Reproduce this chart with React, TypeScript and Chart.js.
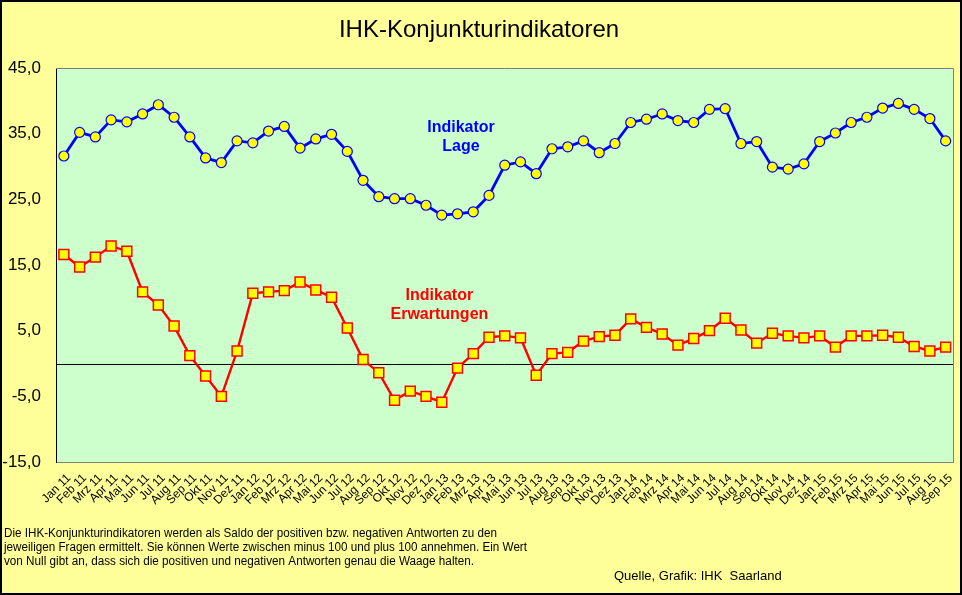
import { useEffect, useRef } from "react";
import { Chart, registerables } from "chart.js";

Chart.register(...registerables);

const labels = [
  "Jan 11", "Feb 11", "Mrz 11", "Apr 11", "Mai 11", "Jun 11", "Jul 11", "Aug 11", "Sep 11", "Okt 11", "Nov 11", "Dez 11",
  "Jan 12", "Feb 12", "Mrz 12", "Apr 12", "Mai 12", "Jun 12", "Jul 12", "Aug 12", "Sep 12", "Okt 12", "Nov 12", "Dez 12",
  "Jan 13", "Feb 13", "Mrz 13", "Apr 13", "Mai 13", "Jun 13", "Jul 13", "Aug 13", "Sep 13", "Okt 13", "Nov 13", "Dez 13",
  "Jan 14", "Feb 14", "Mrz 14", "Apr 14", "Mai 14", "Jun 14", "Jul 14", "Aug 14", "Sep 14", "Okt 14", "Nov 14", "Dez 14",
  "Jan 15", "Feb 15", "Mrz 15", "Apr 15", "Mai 15", "Jun 15", "Jul 15", "Aug 15", "Sep 15",
];

// Indikator Lage
const lage = [
  31.6, 35.2, 34.5, 37.1, 36.8, 38.0, 39.4, 37.5, 34.5, 31.3, 30.6, 33.9,
  33.6, 35.4, 36.1, 32.8, 34.2, 34.9, 32.3, 27.9, 25.4, 25.1, 25.1, 24.1,
  22.6, 22.8, 23.1, 25.6, 30.2, 30.7, 28.9, 32.7, 33.0, 33.9, 32.1, 33.5,
  36.7, 37.2, 38.0, 37.0, 36.7, 38.7, 38.8, 33.5, 33.8, 29.9, 29.6, 30.4,
  33.8, 35.1, 36.7, 37.5, 38.9, 39.6, 38.7, 37.3, 33.9,
];

// Indikator Erwartungen
const erwartungen = [
  16.6, 14.7, 16.2, 17.9, 17.1, 10.9, 8.9, 5.7, 1.2, -1.9, -5.0, 1.9,
  10.7, 10.9, 11.1, 12.4, 11.2, 10.1, 5.4, 0.6, -1.4, -5.6, -4.2, -5.0,
  -5.9, -0.7, 1.5, 4.0, 4.2, 3.9, -1.8, 1.5, 1.7, 3.4, 4.1, 4.3,
  6.8, 5.5, 4.5, 2.8, 3.8, 5.0, 6.9, 5.1, 3.1, 4.6, 4.2, 3.9,
  4.2, 2.5, 4.2, 4.2, 4.3, 4.0, 2.6, 1.9, 2.5,
];

const yTicks = [-15, -5, 5, 15, 25, 35, 45];

const title = "IHK-Konjunkturindikatoren";
const notes = [
  "Die IHK-Konjunkturindikatoren werden als Saldo der positiven bzw. negativen Antworten zu den",
  "jeweiligen Fragen ermittelt. Sie können Werte zwischen minus 100 und plus 100 annehmen. Ein Wert",
  "von Null gibt an, dass sich die positiven und negativen Antworten genau die Waage halten.",
];
const source = "Quelle, Grafik: IHK  Saarland";

const FONT = "'Liberation Sans', Arial, sans-serif";

const decor = {
  id: "decor",
  beforeDraw(chart: any) {
    const { ctx, chartArea: a, width, height } = chart;
    ctx.save();
    ctx.fillStyle = "#FFFF99";
    ctx.fillRect(0, 0, width, height);
    ctx.fillStyle = "#CCFFCC";
    ctx.fillRect(a.left, a.top, a.right - a.left, a.bottom - a.top);
    ctx.restore();
  },
  beforeDatasetsDraw(chart: any) {
    const { ctx, chartArea: a, scales } = chart;
    const y0 = Math.round(scales.y.getPixelForValue(0)) + 0.5;
    ctx.save();
    ctx.strokeStyle = "#000";
    ctx.lineWidth = 1;
    ctx.beginPath();
    ctx.moveTo(a.left, y0);
    ctx.lineTo(a.right, y0);
    ctx.stroke();
    ctx.restore();
  },
  afterDraw(chart: any) {
    const { ctx, chartArea: a, scales, width, height } = chart;
    const x = scales.x;
    const y = scales.y;
    ctx.save();
    // plot frame top/right
    ctx.strokeStyle = "#808080";
    ctx.lineWidth = 1;
    ctx.beginPath();
    ctx.moveTo(a.left, Math.round(a.top) + 0.5);
    ctx.lineTo(Math.round(a.right) - 0.5, Math.round(a.top) + 0.5);
    ctx.lineTo(Math.round(a.right) - 0.5, a.bottom);
    ctx.stroke();

    // title
    ctx.fillStyle = "#000";
    ctx.font = `24px ${FONT}`;
    ctx.textAlign = "center";
    ctx.textBaseline = "alphabetic";
    ctx.fillText(title, 479, 37);

    // series annotations
    ctx.font = `bold 16px ${FONT}`;
    ctx.textBaseline = "middle";
    ctx.fillStyle = "#0000FF";
    ctx.fillText("Indikator", x.getPixelForValue(25.22), y.getPixelForValue(35.9));
    ctx.fillText("Lage", x.getPixelForValue(25.22), y.getPixelForValue(33.0));
    ctx.fillStyle = "#FF0000";
    ctx.fillText("Indikator", x.getPixelForValue(23.85), y.getPixelForValue(10.3));
    ctx.fillText("Erwartungen", x.getPixelForValue(23.85), y.getPixelForValue(7.5));

    // footnotes
    ctx.fillStyle = "#000";
    ctx.textAlign = "left";
    ctx.textBaseline = "alphabetic";
    ctx.font = `12px ${FONT}`;
    const widths = [493, 523, 470];
    notes.forEach((t, i) => ctx.fillText(t, 4, 537 + i * 14, widths[i]));
    ctx.font = `13px ${FONT}`;
    ctx.fillText(source, 614, 580, 178);

    // outer frame
    ctx.strokeStyle = "#000";
    ctx.lineWidth = 2;
    ctx.strokeRect(1, 1, width - 2, height - 2);
    ctx.restore();
  },
};

export default function App() {
  const ref = useRef<HTMLCanvasElement | null>(null);

  useEffect(() => {
    document.body.style.margin = "0";
    if (!ref.current) return;
    const chart = new Chart(ref.current, {
      type: "line",
      data: {
        labels,
        datasets: [
          {
            label: "Indikator Lage",
            data: lage,
            borderColor: "#0000FF",
            borderWidth: 2.8,
            pointStyle: "circle",
            pointRadius: 5,
            pointBackgroundColor: "#FFFF00",
            pointBorderColor: "#0000FF",
            pointBorderWidth: 1.2,
            tension: 0,
          },
          {
            label: "Indikator Erwartungen",
            data: erwartungen,
            borderColor: "#FF0000",
            borderWidth: 2.4,
            pointStyle: "rect",
            pointRadius: 7,
            pointBackgroundColor: "#FFFF00",
            pointBorderColor: "#FF0000",
            pointBorderWidth: 1.5,
            tension: 0,
          },
        ],
      },
      options: {
        responsive: false,
        animation: false,
        layout: { padding: { top: 68, right: 7, left: 0, bottom: 0 } },
        plugins: {
          legend: { display: false },
          tooltip: { enabled: false },
          title: { display: false },
        },
        scales: {
          x: {
            offset: true,
            grid: { display: false, drawTicks: false },
            border: { color: "#808080", width: 1 },
            afterFit: (s: any) => {
              s.height = 133;
              s.paddingLeft = 0;
              s.paddingRight = 0;
            },
            ticks: {
              autoSkip: false,
              minRotation: 45,
              maxRotation: 45,
              padding: 9,
              labelOffset: 5,
              color: "#000",
              font: { family: FONT, size: 12 },
            },
          },
          y: {
            min: -15,
            max: 45,
            grid: { display: false, drawTicks: false },
            border: { color: "#000", width: 1 },
            afterFit: (s: any) => {
              s.width = 56;
              s.paddingTop = 0;
              s.paddingBottom = 0;
            },
            afterBuildTicks: (s: any) => {
              s.ticks = yTicks.map((v) => ({ value: v }));
            },
            ticks: {
              padding: 15,
              color: "#000",
              font: { family: FONT, size: 17 },
              callback: (v: any) => Number(v).toFixed(1).replace(".", ","),
            },
          },
        },
      },
      plugins: [decor],
    });
    return () => chart.destroy();
  }, []);

  return (
    <div style={{ width: 962, height: 595 }}>
      <canvas ref={ref} width={962} height={595} />
    </div>
  );
}
